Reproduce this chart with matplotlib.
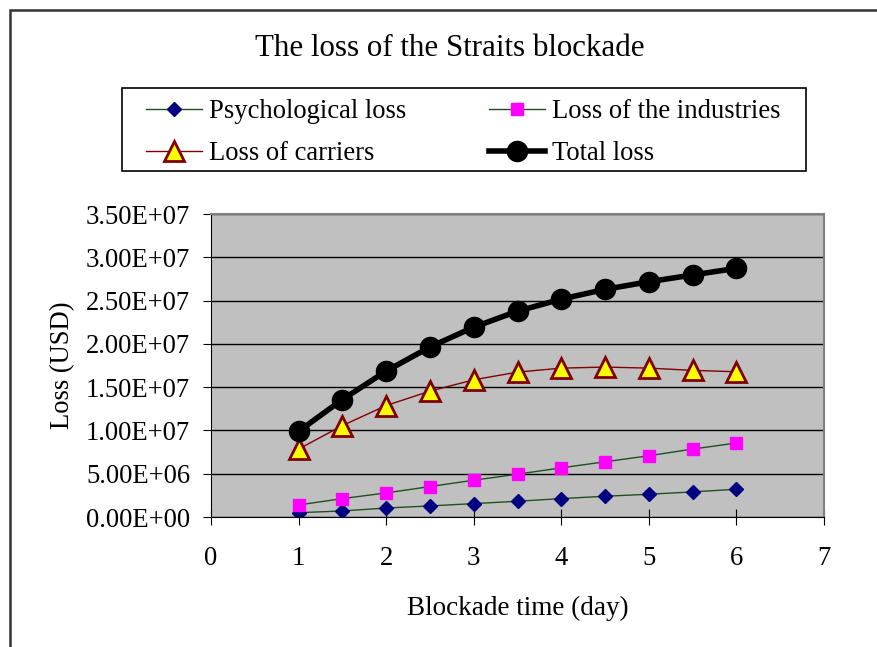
import matplotlib.pyplot as plt
from matplotlib.patches import Rectangle

plt.rcParams['font.family'] = 'Liberation Serif'

# data
days = [1, 1.5, 2, 2.5, 3, 3.5, 4, 4.5, 5, 5.5, 6]
psychological = [0.50e6, 0.70e6, 1.04e6, 1.28e6, 1.55e6, 1.82e6, 2.13e6, 2.40e6, 2.63e6, 2.90e6, 3.21e6]
industries = [1.39e6, 2.13e6, 2.78e6, 3.52e6, 4.25e6, 4.95e6, 5.68e6, 6.38e6, 7.08e6, 7.85e6, 8.55e6]
carriers = [7.85e6, 1.056e7, 1.288e7, 1.454e7, 1.585e7, 1.674e7, 1.72e7, 1.732e7, 1.72e7, 1.694e7, 1.678e7]
total = [9.9e6, 1.357e7, 1.686e7, 1.964e7, 2.193e7, 2.378e7, 2.517e7, 2.63e7, 2.718e7, 2.796e7, 2.873e7]

x_ticks = [0, 1, 2, 3, 4, 5, 6, 7]
y_ticks = [0, 5e6, 1e7, 1.5e7, 2e7, 2.5e7, 3e7, 3.5e7]
y_labels = ['0.00E+00', '5.00E+06', '1.00E+07', '1.50E+07', '2.00E+07', '2.50E+07', '3.00E+07', '3.50E+07']

fs = 19.2

fig = plt.figure(figsize=(8.77, 6.47), dpi=100)
ax = fig.add_axes([0.2406, 0.2009, 0.6990, 0.4683])
ax.set_facecolor('#c0c0c0')

p1, = ax.plot(days, psychological, '-', color='#1f4f1f', lw=1, marker='D', ms=7,
              mfc='#000080', mec='#000080', label='Psychological loss')
p2, = ax.plot(days, industries, '-', color='#1f4f1f', lw=1, marker='s', ms=8,
              mfc='#ff00ff', mec='#ff00ff', label='Loss of the industries')
p3, = ax.plot(days, carriers, '-', color='#800000', lw=1, marker='^', ms=14,
              mfc='#ffff00', mec='#800000', mew=2, label='Loss of carriers')
p4, = ax.plot(days, total, '-', color='black', lw=4, marker='o', ms=14.5,
              mfc='black', mec='black', label='Total loss')

ax.set_xlim(0, 7)
ax.set_ylim(0, 3.5e7)
ax.set_xticks(x_ticks)
ax.set_yticks(y_ticks)
ax.set_yticklabels(y_labels)
ax.tick_params(axis='both', labelsize=fs, color='black')
ax.tick_params(axis='x', direction='inout', length=12, pad=15)
ax.tick_params(axis='y', direction='out', length=6, pad=9)
ax.yaxis.grid(True, color='black', lw=1)
ax.set_axisbelow(True)
for s in ['top', 'right']:
    ax.spines[s].set_color('#808080')
    ax.spines[s].set_linewidth(1.5)
for s in ['left', 'bottom']:
    ax.spines[s].set_color('black')

ax.set_xlabel('Blockade time (day)', fontsize=fs + 0.3, labelpad=18)
ax.set_ylabel('Loss (USD)', fontsize=fs, labelpad=8)

fig.text(0.5125, 0.925, 'The loss of the Straits blockade', ha='center', va='center', fontsize=22.3)

# legend contents without frame, box drawn separately
leg = fig.legend([p1, p3, p2, p4],
                 ['Psychological loss', 'Loss of carriers', 'Loss of the industries', 'Total loss'],
                 ncol=2, loc='center', bbox_to_anchor=(0.5285, 1 - 132.5 / 647), fontsize=fs,
                 frameon=False, handlelength=2.1, handletextpad=0.27, columnspacing=3.1,
                 borderpad=0, labelspacing=0.65, borderaxespad=0)
fig.patches.append(Rectangle((122 / 877, 1 - 171 / 647), 684 / 877, 83 / 647, transform=fig.transFigure,
                             fill=False, edgecolor='black', lw=1.2))

fig.patches.append(Rectangle((10 / 877, -0.1), 1.2, 1 - 9.5 / 647 + 0.1, transform=fig.transFigure,
                             fill=False, edgecolor='#333333', lw=1.8))

fig.savefig('out.png', dpi=100)
